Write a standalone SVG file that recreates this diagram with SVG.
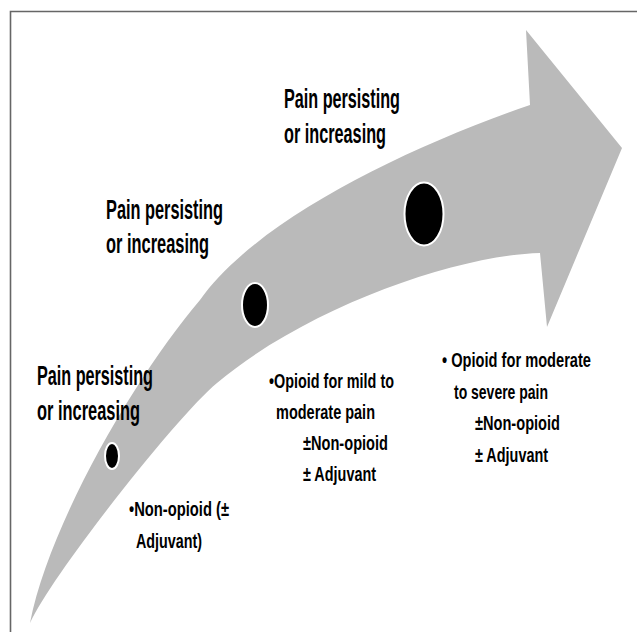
<svg xmlns="http://www.w3.org/2000/svg" width="637" height="632" viewBox="0 0 637 632">
  <style>
    .head { font-family: "Liberation Sans", Arial, sans-serif; font-weight: bold; font-size: 27px; fill: #000; }
    .item { font-family: "Liberation Sans", Arial, sans-serif; font-weight: bold; font-size: 21px; fill: #000; }
    .dot { fill: #000; stroke: #fff; stroke-width: 2; }
  </style>
  <rect width="637" height="632" fill="#fff"/>
  <path d="M10.5,632 V11.5 H637" fill="none" stroke="#666" stroke-width="1.6"/>
  <g id="arrow">
    <path d="M30,623 C50,520 140,370 200,300 C255,222 400,150 530,105 L526,30 L622,148 L547,327 L540,253 C460,255 310,305 217,383 C180,413 55,570 30,623 Z" fill="#bababa"/>
  </g>
  <g id="step1">
    <ellipse class="dot" cx="112" cy="456" rx="7" ry="13"/>
    <text class="head" x="37" y="385" textLength="116" lengthAdjust="spacingAndGlyphs">Pain persisting</text>
    <text class="head" x="37" y="420" textLength="103" lengthAdjust="spacingAndGlyphs">or increasing</text>
    <text class="item" x="129" y="516" textLength="100" lengthAdjust="spacingAndGlyphs">•Non-opioid (±</text>
    <text class="item" x="136" y="548" textLength="66" lengthAdjust="spacingAndGlyphs">Adjuvant)</text>
  </g>
  <g id="step2">
    <ellipse class="dot" cx="255" cy="305" rx="13" ry="22"/>
    <text class="head" x="106" y="219" textLength="117" lengthAdjust="spacingAndGlyphs">Pain persisting</text>
    <text class="head" x="106" y="253" textLength="103" lengthAdjust="spacingAndGlyphs">or increasing</text>
    <text class="item" x="269" y="388" textLength="125" lengthAdjust="spacingAndGlyphs">•Opioid for mild to</text>
    <text class="item" x="276" y="419" textLength="99" lengthAdjust="spacingAndGlyphs">moderate pain</text>
    <text class="item" x="303" y="450" textLength="85" lengthAdjust="spacingAndGlyphs">±Non-opioid</text>
    <text class="item" x="303" y="481" textLength="73" lengthAdjust="spacingAndGlyphs">± Adjuvant</text>
  </g>
  <g id="step3">
    <ellipse class="dot" cx="424" cy="214" rx="19.5" ry="31.5"/>
    <text class="head" x="284" y="108" textLength="116" lengthAdjust="spacingAndGlyphs">Pain persisting</text>
    <text class="head" x="284" y="143" textLength="102" lengthAdjust="spacingAndGlyphs">or increasing</text>
    <text class="item" x="442" y="367" textLength="149" lengthAdjust="spacingAndGlyphs">• Opioid for moderate</text>
    <text class="item" x="454" y="399" textLength="94" lengthAdjust="spacingAndGlyphs">to severe pain</text>
    <text class="item" x="475" y="430" textLength="85" lengthAdjust="spacingAndGlyphs">±Non-opioid</text>
    <text class="item" x="475" y="462" textLength="73" lengthAdjust="spacingAndGlyphs">± Adjuvant</text>
  </g>
</svg>
